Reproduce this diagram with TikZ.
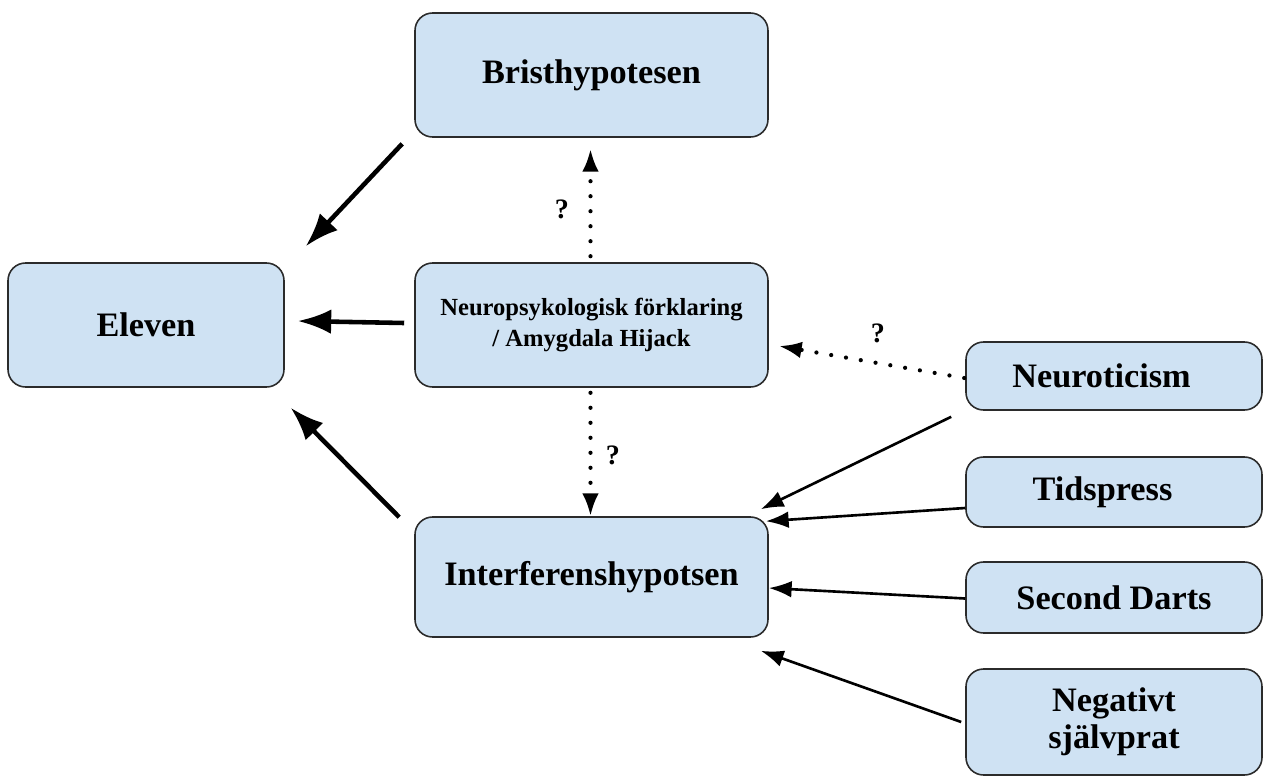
\documentclass[tikz,border=0pt]{standalone}
\usepackage{fontspec}
\setmainfont{Liberation Serif}
\usepackage{xcolor}
\usepackage{tikz}
\usetikzlibrary{calc,arrows.meta}
\definecolor{boxfill}{HTML}{CFE2F3}
\definecolor{boxline}{HTML}{2B2B2B}
\definecolor{ink}{HTML}{000000}
\tikzset{
  box/.style={draw=boxline, fill=boxfill, line width=0.9pt, rounded corners=10pt,
              align=center, font=\bfseries\fontsize{19.5}{21}\selectfont, inner sep=2pt},
  bigbox/.style={box, minimum width=353*0.02cm, minimum height=124*0.02cm},
  sidebox/.style={box, minimum width=296*0.02cm},
  arr/.style={draw=ink, line width=2.6pt, -{Latex[length=19pt,width=14pt]}},
  thin/.style={draw=ink, line width=1.5pt, -{Latex[length=13pt,width=9.5pt]}},
  dots/.style={draw=ink, line width=2.4pt, line cap=round, dash pattern=on 0pt off 0.3cm,
               -{Latex[length=13pt,width=9.5pt]}},
  qm/.style={text=ink, font=\bfseries\fontsize{16}{18}\selectfont},
}
\begin{document}
\begin{tikzpicture}[x=0.02cm, y=-0.02cm]
  \useasboundingbox (0,0) rectangle (1265,778);

  % main column
  \node[bigbox] (brist) at (591.5,75) {Bristhypotesen};
  \node[bigbox, font=\bfseries\fontsize{14}{17.5}\selectfont] (neuro) at (591.5,325)
    {Neuropsykologisk förklaring\\ / Amygdala Hijack};
  \node[bigbox, minimum height=120*0.02cm] (interf) at (591.5,577) {Interferenshypotsen};
  \node[box, minimum width=276*0.02cm, minimum height=124*0.02cm] (eleven) at (146,325) {Eleven};

  % factors on the right
  \node[sidebox, minimum height=68*0.02cm] (neurot) at (1114,376) {\raisebox{-3pt}{Neuroticism}\hspace*{0.5cm}};
  \node[sidebox, minimum height=70*0.02cm] (tids) at (1114,492) {\raisebox{-2pt}{Tidspress}\hspace*{0.46cm}};
  \node[sidebox, minimum height=71*0.02cm] (darts) at (1114,597.5) {Second Darts};
  \node[sidebox, minimum height=106*0.02cm] (neg) at (1114,722) {Negativt\\ självprat};

  % arrows into Eleven
  \draw[arr] ($(brist.south west)+(-12,6)$) -- ($(eleven.north east)+(21,-16)$);
  \draw[arr] ($(neuro.west)+(-10,-2)$) -- ($(eleven.east)+(13,-4)$);
  \draw[arr] ($(interf.north west)+(-15,1)$) -- ($(eleven.south east)+(6,20)$);

  % uncertain links
  \draw[dots] ($(neuro.north)+(-1,-6)$) -- ($(brist.south)+(-1,11)$);
  \draw[dots] ($(neuro.south)+(-1,5)$) -- ($(interf.north)+(-1,0)$);
  \draw[dots] ($(neurot.west)+(-1,2)$) -- ($(neuro.east)+(10,21)$);
  \node[qm] (q1) at (562,209) {?};
  \node[qm] (q2) at (613,455) {?};
  \node[qm] (q3) at (878,333) {?};

  % factors feeding interference
  \draw[thin] ($(neurot.south west)+(-14,6)$) -- ($(interf.north east)+(-8,-7)$);
  \draw[thin] ($(tids.west)+(0,16)$) -- ($(interf.north east)+(-3,5)$);
  \draw[thin] ($(darts.west)+(0,1)$) -- ($(interf.east)+(0,11)$);
  \draw[thin] ($(neg.west)+(-4,0)$) -- ($(interf.south east)+(-8,13)$);
\end{tikzpicture}
\end{document}
